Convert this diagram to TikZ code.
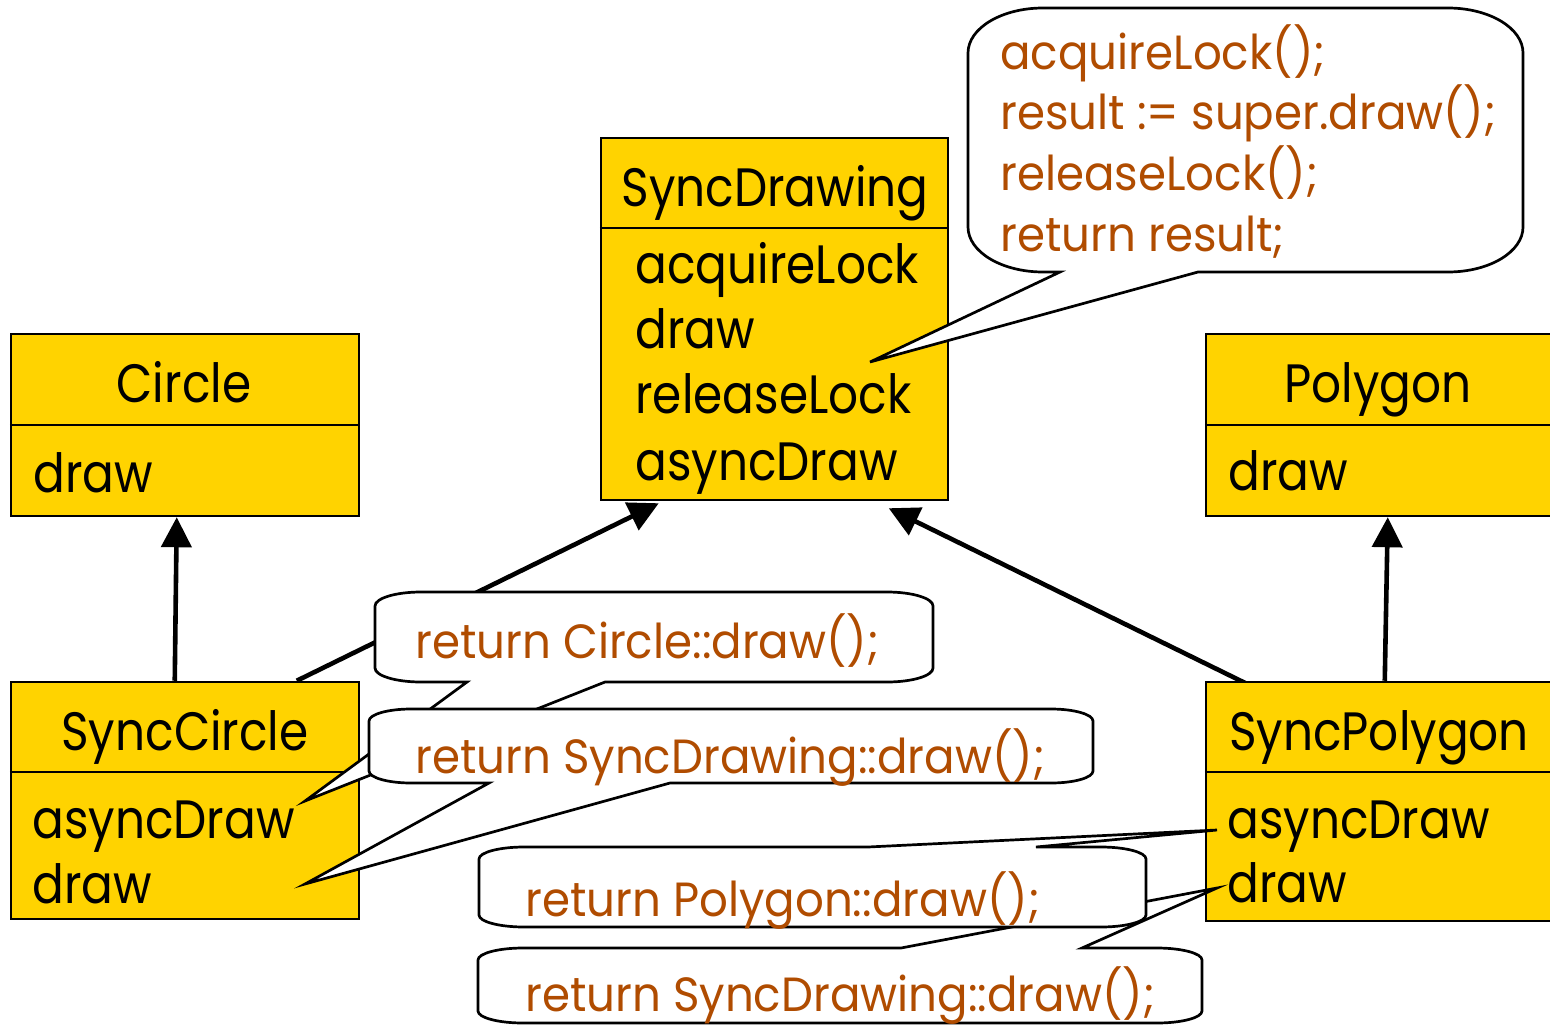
\documentclass[tikz,border=0pt]{standalone}
\usepackage{fontspec}
\setmainfont[FakeStretch=0.87]{Poppins}
\newfontfamily\codefont[FakeStretch=0.94]{Poppins}
\usetikzlibrary{arrows.meta,fit,calc}
\definecolor{clsfill}{RGB}{255,211,0}
\definecolor{codebrown}{RGB}{176,76,0}
\pgfdeclarelayer{back}
\pgfsetlayers{back,main}

% Rounded speech bubble with elliptical corners.
% #1 left, #2 top, #3 right, #4 bottom, #5 x corner radius, #6 y corner radius,
% #7 wedge inserted in the top edge (left to right),
% #8 wedge inserted in the bottom edge (right to left)
\newcommand\bubblepath[8]{%
  ({#1+#5},#2) #7 -- ({#3-#5},#2)
  .. controls ({#3-0.448*#5},#2) and (#3,{#2+0.448*#6}) .. (#3,{#2+#6})
  -- (#3,{#4-#6})
  .. controls (#3,{#4-0.448*#6}) and ({#3-0.448*#5},#4) .. ({#3-#5},#4)
  #8 -- ({#1+#5},#4)
  .. controls ({#1+0.448*#5},#4) and (#1,{#4-0.448*#6}) .. (#1,{#4-#6})
  -- (#1,{#2+#6})
  .. controls (#1,{#2+0.448*#6}) and ({#1+0.448*#5},#2) .. ({#1+#5},#2) -- cycle}

\begin{document}
\begin{tikzpicture}[x=0.5pt,y=-0.5pt,
  clsbox/.style={draw=black, line width=1.25pt, fill=clsfill, inner sep=0pt},
  divider/.style={draw=black, line width=1.25pt},
  clsname/.style={font=\fontsize{27}{27}\selectfont, anchor=base, inner sep=0pt},
  member/.style={font=\fontsize{27}{27}\selectfont, anchor=base west, inner sep=0pt},
  code/.style={font=\codefont\fontsize{24}{24}\selectfont, text=codebrown, anchor=base west, inner sep=0pt},
  inherit/.style={line width=2.3pt, -{Triangle[length=15pt,width=15pt]}},
  bubble/.style={draw=black, line width=1.35pt, fill=white, line join=miter}]

\clip (0,0) rectangle (1550,1027);

% class boxes
\node[clsbox, fit={(601,138) (948,500)}] (sdraw) {};
\node[clsbox, fit={(11,334) (359,516)}] (circ) {};
\node[clsbox, fit={(1206,334) (1600,516)}] (poly) {};
\node[clsbox, fit={(11,682) (359,919)}] (scirc) {};
\node[clsbox, fit={(1206,682) (1600,921)}] (spoly) {};

\draw[divider] (sdraw.west |- 0,228) -- (sdraw.east |- 0,228);
\draw[divider] (circ.west |- 0,425) -- (circ.east |- 0,425);
\draw[divider] (poly.west |- 0,425) -- (poly.east |- 0,425);
\draw[divider] (scirc.west |- 0,772) -- (scirc.east |- 0,772);
\draw[divider] (spoly.west |- 0,772) -- (spoly.east |- 0,772);

% class names
\node[clsname] (sdraw-name) at (775,206) {SyncDrawing};
\node[clsname] (circ-name) at (184,402) {Circle};
\node[clsname] (poly-name) at (1378,402) {Polygon};
\node[clsname] (scirc-name) at (185,750) {SyncCircle};
\node[clsname] (spoly-name) at (1379,750) {SyncPolygon};

% members
\node[member] (sdraw-m1) at (635,283) {acquireLock};
\node[member] (sdraw-m2) at (635,348) {draw};
\node[member] (sdraw-m3) at (635,413) {releaseLock};
\node[member] (sdraw-m4) at (635,480) {asyncDraw};
\node[member] (circ-m1) at (33,492) {draw};
\node[member] (poly-m1) at (1228,490) {draw};
\node[member] (scirc-m1) at (32,838) {asyncDraw};
\node[member] (scirc-m2) at (32,903) {draw};
\node[member] (spoly-m1) at (1227,838) {asyncDraw};
\node[member] (spoly-m2) at (1227,902) {draw};

% inheritance arrows, kept behind boxes and bubbles
\begin{pgfonlayer}{back}
  \fill[white] (0,0) rectangle (1550,1027);
  \draw[inherit] ($(scirc.north west)+(165,0)$) -- ($(circ.south west)+(167,0)$);
  \draw[inherit] ($(scirc.north west)+(287,0)$) -- ($(sdraw.south west)+(59,2)$);
  \draw[inherit] ($(spoly.north west)+(44,4)$) -- ($(sdraw.south west)+(289,7)$);
  \draw[inherit] ($(spoly.north west)+(180,0)$) -- ($(poly.south west)+(183,0)$);
\end{pgfonlayer}

% wedge tips
\coordinate (tip1) at (870,362);
\coordinate (tip2) at (305,801);
\coordinate (tip3) at (305,884);
\coordinate (tip4) at (1217,830);
\coordinate (tip5) at (1217,888);

% code bubbles
\draw[bubble] \bubblepath{375}{592}{933}{682}{46}{14}{}{-- (605,682) -- (tip2) -- (467,682)};
\node[code] (code2) at (415,658) {return Circle::draw();};

\draw[bubble] \bubblepath{369}{709}{1093}{783}{42}{12}{}{-- (670,783) -- (tip3) -- (489,783)};
\node[code] (code3) at (415,773) {return SyncDrawing::draw();};

\draw[bubble] \bubblepath{478}{948}{1202}{1023}{45}{12}{-- (901,948) -- (tip5) -- (1082,948)}{};
\node[code] (code5) at (525,1011) {return SyncDrawing::draw();};

\draw[bubble] \bubblepath{479}{847}{1146}{927}{45}{12}{-- (868,847) -- (tip4) -- (1036,847)}{};
\node[code] (code4) at (525,916) {return Polygon::draw();};

\draw[bubble] \bubblepath{968}{8}{1523}{272}{75}{45}{}{-- (1198,272) -- (tip1) -- (1060,272)};
\node[code] (code1a) at (1000,70) {acquireLock();};
\node[code] (code1b) at (1000,130) {result := super.draw();};
\node[code] (code1c) at (1000,191) {releaseLock();};
\node[code] (code1d) at (1000,251) {return result;};
\end{tikzpicture}
\end{document}
